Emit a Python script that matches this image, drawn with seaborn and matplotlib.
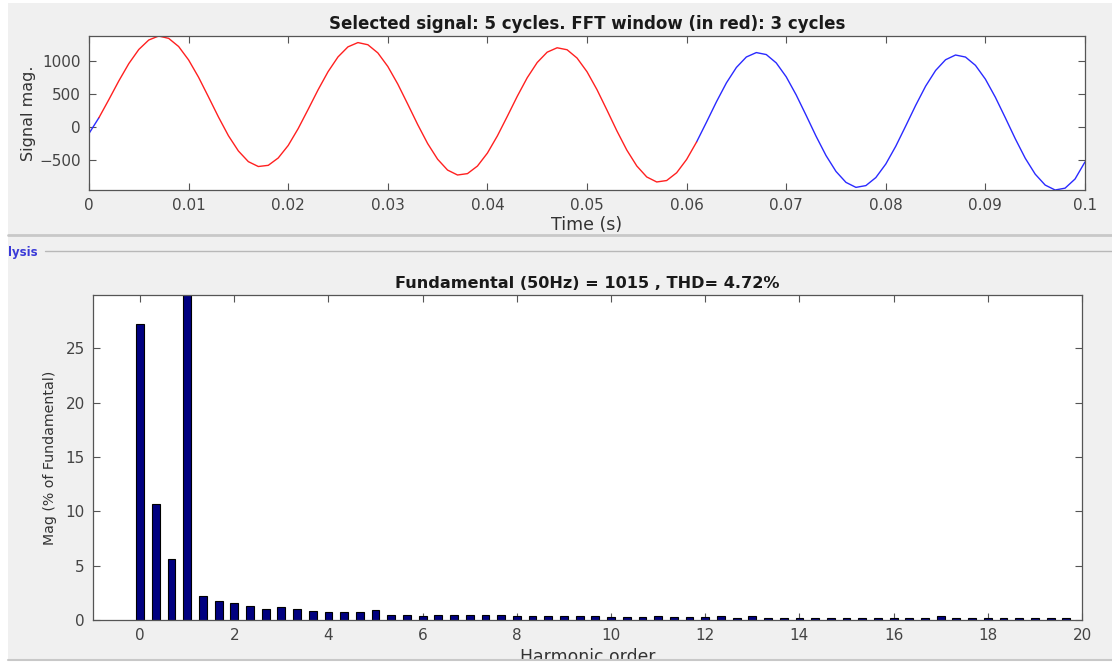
import numpy as np
import pandas as pd
import matplotlib
matplotlib.use("Agg")
import matplotlib.pyplot as plt
import seaborn as sns

# signal samples, one per millisecond (0 .. 0.1 s)
time_s = np.round(np.arange(101) * 0.001, 3)
signal_mag = [
    -98, 143, 419, 703, 965, 1179, 1323, 1384, 1348, 1224,
    1020, 757, 457, 152, -132, -364, -526, -600, -582, -470,
    -280, -24, 268, 566, 841, 1066, 1219, 1284, 1251, 1127,
    921, 654, 349, 38, -251, -489, -654, -729, -708, -593,
    -396, -135, 163, 468, 750, 981, 1138, 1205, 1175, 1049,
    841, 569, 259, -58, -351, -592, -759, -835, -813, -695,
    -493, -228, 75, 385, 672, 906, 1065, 1132, 1102, 975,
    764, 489, 178, -140, -434, -675, -841, -917, -890, -768,
    -562, -292, 16, 330, 622, 860, 1023, 1095, 1064, 938,
    728, 453, 141, -178, -474, -716, -882, -957, -929, -790,
    -530,
]
fft_start, fft_end = 0.001, 0.061

# spectrum: harmonic orders in steps of 1/3 (3-cycle window)
harm_order = np.round(np.arange(60) / 3, 4)
harm_mag = [
    27.2, 10.7, 5.6, 100.0, 2.25, 1.76, 1.54, 1.26, 1.05, 1.17,
    1.05, 0.86, 0.71, 0.71, 0.71, 0.95, 0.49, 0.49, 0.40, 0.49,
    0.49, 0.49, 0.49, 0.49, 0.40, 0.40, 0.40, 0.40, 0.40, 0.40,
    0.30, 0.30, 0.30, 0.40, 0.30, 0.30, 0.30, 0.33, 0.22, 0.33,
    0.22, 0.22, 0.22, 0.22, 0.22, 0.22, 0.22, 0.20, 0.20, 0.20,
    0.20, 0.33, 0.20, 0.20, 0.20, 0.20, 0.20, 0.20, 0.20, 0.20,
]

sig = pd.DataFrame({"t": time_s, "v": signal_mag})
pre = sig[sig.t <= fft_start]
win = sig[(sig.t >= fft_start) & (sig.t <= fft_end)]
post = sig[sig.t >= fft_end]
spec = pd.DataFrame({"order": harm_order, "mag": harm_mag})

sns.set_style("ticks")
plt.rcParams['font.family'] = ['DejaVu Sans']
plt.rcParams['axes.edgecolor'] = '#555555'
plt.rcParams['xtick.color'] = '#555555'
plt.rcParams['ytick.color'] = '#555555'
plt.rcParams['xtick.labelcolor'] = '#444444'
plt.rcParams['ytick.labelcolor'] = '#444444'

W, H = 1112, 664
fig = plt.figure(figsize=(W / 100, H / 100), dpi=100, facecolor='#f0f0f0')

def box(l, t, r, b):
    return [l / W, 1 - b / H, (r - l) / W, (b - t) / H]

# white window border strips (left, top, bottom)
for l, t, r, b in [(0, 0, 8, H), (0, 0, W, 3), (0, 661, W, H)]:
    fig.add_artist(plt.Rectangle((l / W, 1 - b / H), (r - l) / W, (b - t) / H,
                                 transform=fig.transFigure, color='white', lw=0))

ax1 = fig.add_axes(box(89, 36, 1085, 190))
ax2 = fig.add_axes(box(93, 295, 1082, 620))

for ax in (ax1, ax2):
    ax.set_facecolor('white')
    ax.tick_params(direction='in', top=True, right=True, length=5, width=0.8,
                   labelsize=11, pad=6)
    for s in ax.spines.values():
        s.set_linewidth(0.9)

# top: time signal, blue outside the fft window, red inside
blue, red = '#2a2aff', '#ff2020'
sns.lineplot(data=pre, x="t", y="v", ax=ax1, color=blue, lw=1.0, estimator=None)
sns.lineplot(data=post, x="t", y="v", ax=ax1, color=blue, lw=1.0, estimator=None)
sns.lineplot(data=win, x="t", y="v", ax=ax1, color=red, lw=1.0, estimator=None)
ax1.set_xlim(0, 0.1)
ax1.set_ylim(min(signal_mag), max(signal_mag))
ax1.set_xticks(np.round(np.arange(0, 0.101, 0.01), 2))
ax1.set_xticklabels(["0"] + [f"{x:.2f}" for x in np.arange(0.01, 0.095, 0.01)] + ["0.1"])
ax1.set_yticks([-500, 0, 500, 1000])
ax1.set_title("Selected signal: 5 cycles. FFT window (in red): 3 cycles",
              fontsize=12, fontweight='bold', color='#1a1a1a', pad=5)
ax1.set_xlabel("Time (s)", fontsize=12.5, color='#333333', labelpad=2)
ax1.set_ylabel("Signal mag.", fontsize=11.5, color='#333333', labelpad=2)

# bottom: harmonic spectrum
sns.barplot(data=spec, x="order", y="mag", ax=ax2, native_scale=True, width=0.5,
            color='#000080', saturation=1, edgecolor='black', linewidth=0.8,
            errorbar=None)
ax2.set_xlim(-1, 20)
ax2.set_ylim(0, 29.9)
ax2.set_xticks(range(0, 21, 2))
ax2.set_yticks(range(0, 26, 5))
ax2.set_title("Fundamental (50Hz) = 1015 , THD= 4.72%",
              fontsize=11.6, fontweight='bold', color='#1a1a1a', pad=5)
ax2.set_xlabel("Harmonic order", fontsize=12.4, color='#333333', labelpad=3)
ax2.set_ylabel("Mag (% of Fundamental)", fontsize=10.2, color='#333333', labelpad=6)

# panel separators from the gui window
fig.add_artist(plt.Line2D([8 / W, 1], [1 - 235 / H] * 2, color='#c8c8c8', lw=2))
fig.add_artist(plt.Line2D([45 / W, 1], [1 - 251 / H] * 2, color='#b8b8b8', lw=1))
fig.add_artist(plt.Line2D([8 / W, 1], [1 - 660 / H] * 2, color='#c8c8c8', lw=1.5))
fig.text(8 / W, 1 - 252 / H, "lysis", fontsize=8.5, fontweight='bold',
         color='#3a3ad8', va='center', ha='left')

fig.savefig("out.png", dpi=100, facecolor=fig.get_facecolor())
